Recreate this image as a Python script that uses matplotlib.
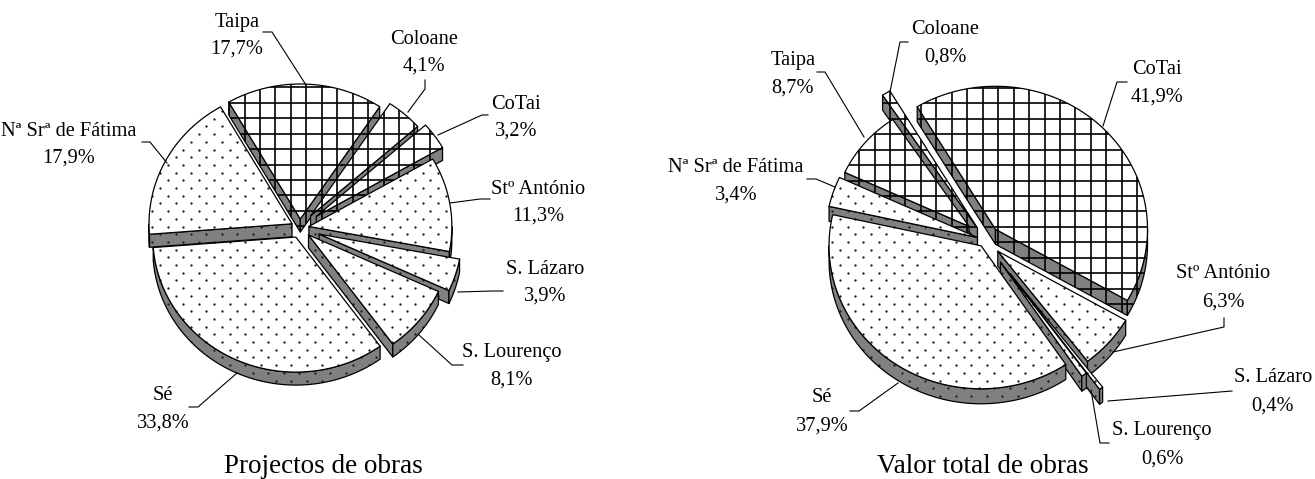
import numpy as np
import matplotlib
matplotlib.use('Agg')
import matplotlib.pyplot as plt
from matplotlib.patches import Polygon

plt.rcParams['font.family'] = ['Liberation Serif', 'DejaVu Serif']

# clockwise from the first slice, both pies start at the Taipa / CoTai cut
names_1 = ['Taipa', 'Coloane', 'CoTai', 'Stº António', 'S. Lázaro', 'S. Lourenço', 'Sé', 'Nª Srª de Fátima']
shares_1 = [17.7, 4.1, 3.2, 11.3, 3.9, 8.1, 33.8, 17.9]
names_2 = ['CoTai', 'Stº António', 'S. Lázaro', 'S. Lourenço', 'Sé', 'Nª Srª de Fátima', 'Taipa', 'Coloane']
shares_2 = [41.9, 6.3, 0.4, 0.6, 37.9, 3.4, 8.7, 0.8]
grid_zones = ['Taipa', 'Coloane', 'CoTai']

title_1 = 'Projectos de obras'
title_2 = 'Valor total de obras'

# layout of each pie, in pixels
pie_1 = dict(center=(300, 228), rx=143, ry=135, depth=13, start=-30, phase=(260, 102.7), pct_gap=27,
             explode=[9, 16, 20, 9, 20, 11, 10, 9], scale=[1, 1, 1.02, 1, 1, 1, 1, 1])
pie_2 = dict(center=(985, 240), rx=152, ry=143, depth=15, start=-31, phase=(967.3, 103.3), pct_gap=28,
             explode=[15, 17, 42, 27, 7, 8, 21, 14], scale=[1, 0.97, 1, 0.96, 1, 1, 0.9, 1.12])

# label centre, then the leader line going out from it
labels_1 = {
    'Taipa': ((237, 22), [(263, 32), (272, 32), (306, 85)]),
    'Coloane': ((424, 39), [(425, 80), (425, 89), (408, 112)]),
    'CoTai': ((516, 104), [(488, 115), (482, 115), (438, 135)]),
    'Stº António': ((538, 189), [(490, 199), (480, 199), (450, 203)]),
    'S. Lázaro': ((545, 269), [(503, 291), (493, 291), (458, 292)]),
    'S. Lourenço': ((512, 353), [(463, 365), (452, 365), (419, 335)]),
    'Sé': ((163, 396), [(189, 407), (198, 407), (237, 373)]),
    'Nª Srª de Fátima': ((69, 131), [(142, 142), (150, 142), (167, 163)]),
}
labels_2 = {
    'CoTai': ((1157, 69), [(1127, 82), (1117, 82), (1103, 126)]),
    'Stº António': ((1223, 274), [(1224, 318), (1224, 327), (1113, 352)]),
    'S. Lázaro': ((1273, 378), [(1232, 391), (1108, 401)]),
    'S. Lourenço': ((1162, 431), [(1109, 443), (1100, 443), (1091, 390)]),
    'Sé': ((822, 398), [(850, 411), (859, 411), (898, 383)]),
    'Nª Srª de Fátima': ((736, 167), [(807, 179), (816, 179), (835, 187)]),
    'Taipa': ((793, 60), [(817, 72), (825, 72), (864, 137)]),
    'Coloane': ((945, 29), [(908, 42), (900, 42), (890, 92)]),
}

GREY = '#808080'
CELL = 15.45
ROW = 7.7
LABEL_SIZE = 14.7

fig = plt.figure(figsize=(13.15, 4.79), dpi=100)
ax = fig.add_axes([0, 0, 1, 1])
ax.set_xlim(0, 1315)
ax.set_ylim(479, 0)
ax.axis('off')

z = [1]


def next_z():
    z[0] += 1
    return z[0]


def add_pattern(patch, grid, phase):
    # the fill pattern is cut to the polygon with a clip path
    xy = patch.get_xy()
    x0, y0 = xy.min(axis=0)
    x1, y1 = xy.max(axis=0)
    if grid:
        xs = phase[0] + CELL * np.arange(np.floor((x0 - phase[0]) / CELL), np.ceil((x1 - phase[0]) / CELL) + 1)
        ys = phase[1] + CELL * np.arange(np.floor((y0 - phase[1]) / CELL), np.ceil((y1 - phase[1]) / CELL) + 1)
        zo = next_z()
        a = ax.vlines(xs, y0, y1, color='black', lw=1.2, zorder=zo)
        b = ax.hlines(ys, x0, x1, color='black', lw=1.2, zorder=zo)
        a.set_clip_path(patch)
        b.set_clip_path(patch)
    else:
        rows = np.arange(np.floor((y0 - 257.3) / ROW), np.ceil((y1 - 257.3) / ROW) + 1)
        gx, gy = [], []
        for r in rows:
            first = 183.3 + (CELL / 2 if int(r) % 2 else 0)
            n = np.arange(np.floor((x0 - first) / CELL), np.ceil((x1 - first) / CELL) + 1)
            gx.extend(first + CELL * n)
            gy.extend([257.3 + r * ROW] * len(n))
        dots, = ax.plot(gx, gy, ls='none', marker='o', ms=1.7, mfc='#202020', mec='none', zorder=next_z())
        dots.set_clip_path(patch)


def add_face(pts, color, grid, phase):
    patch = Polygon(pts, closed=True, fc=color, ec='none', zorder=next_z())
    ax.add_patch(patch)
    add_pattern(patch, grid, phase)
    ax.add_patch(Polygon(pts, closed=True, fill=False, ec='black', lw=0.9, joinstyle='round', zorder=next_z()))


def draw_pie(names, shares, pie):
    spans = np.array(shares) / sum(shares) * 360
    starts = pie['start'] + np.concatenate([[0], np.cumsum(spans)[:-1]])
    mids = starts + spans / 2
    down = np.array([0, pie['depth']])

    # back slices first so the front ones paint over them
    for i in np.argsort(-np.cos(np.radians(mids))):
        grid = names[i] in grid_zones
        m = np.radians(mids[i])
        apex = np.array(pie['center']) + pie['explode'][i] * np.array([np.sin(m), -np.cos(m)])
        a0, a1 = starts[i], starts[i] + spans[i]
        k = pie['scale'][i]

        def rim(angles):
            t = np.radians(angles)
            return apex + k * np.column_stack([pie['rx'] * np.sin(t), -pie['ry'] * np.cos(t)])

        # cut faces, only the ones that look towards the viewer
        if np.sin(np.radians(a0)) < 0:
            p = rim([a0])[0]
            add_face([apex, p, p + down, apex + down], GREY, grid, pie['phase'])
        if np.sin(np.radians(a1)) > 0:
            p = rim([a1])[0]
            add_face([apex, p, p + down, apex + down], GREY, grid, pie['phase'])

        # outer wall, the part of the rim on the lower half
        lo, hi = max(a0, 90), min(a1, 270)
        if hi > lo:
            arc = rim(np.linspace(lo, hi, 60))
            add_face(np.vstack([arc, (arc + down)[::-1]]), GREY, grid, pie['phase'])

        top = rim(np.linspace(a0, a1, max(int(spans[i]) * 2, 3)))
        add_face(np.vstack([apex, top]), 'white', grid, pie['phase'])


def draw_labels(names, shares, labels, gap):
    for name, share in zip(names, shares):
        (x, y), leader = labels[name]
        pct = f'{share:.1f}'.replace('.', ',') + '%'
        ax.text(x, y, name, ha='center', va='center', fontsize=LABEL_SIZE, zorder=500000)
        ax.text(x, y + gap, pct, ha='center', va='center', fontsize=LABEL_SIZE, zorder=500000)
        lx, ly = zip(*leader)
        ax.plot(lx, ly, color='black', lw=0.8, zorder=400000)


draw_pie(names_1, shares_1, pie_1)
draw_pie(names_2, shares_2, pie_2)
draw_labels(names_1, shares_1, labels_1, pie_1['pct_gap'])
draw_labels(names_2, shares_2, labels_2, pie_2['pct_gap'])
ax.text(323, 473, title_1, ha='center', va='baseline', fontsize=19.5)
ax.text(983, 473, title_2, ha='center', va='baseline', fontsize=19.5)

fig.savefig('out.png', dpi=100)
